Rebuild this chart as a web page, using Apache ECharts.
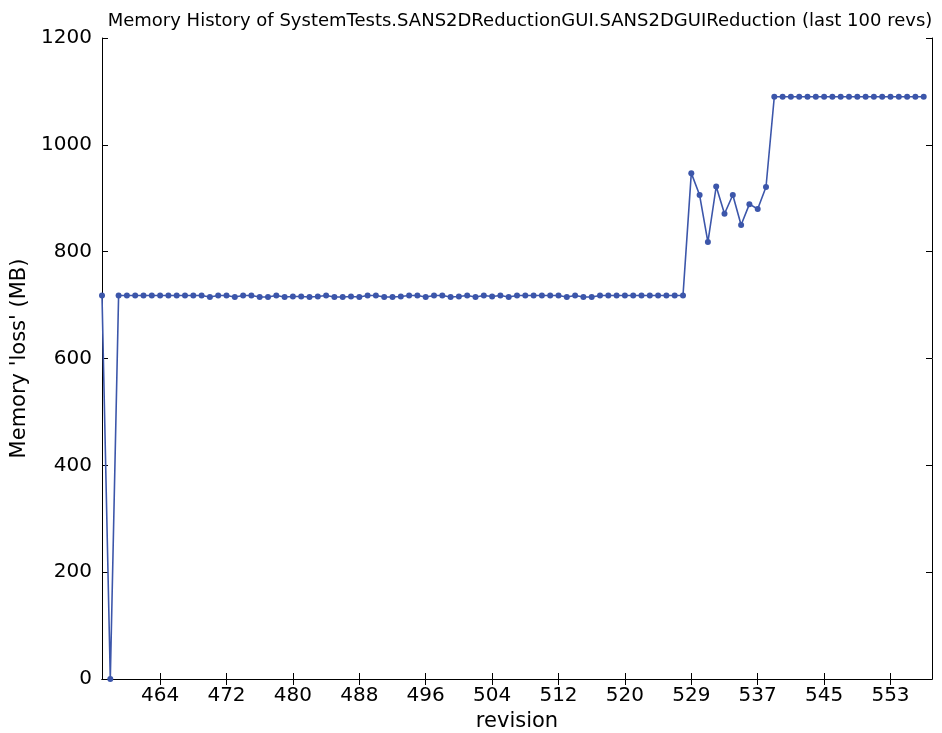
<!DOCTYPE html>
<html>
<head>
<meta charset="utf-8">
<script src="https://cdn.jsdelivr.net/npm/echarts@6/dist/echarts.min.js"></script>
<style>
  html, body { margin: 0; padding: 0; background: #fff; }
  #chart { width: 942px; height: 733px; }
</style>
</head>
<body>
<div id="chart"></div>
<script>
// revisions (one per point, 521 missing from the history)
var revisions = [
  457, 458, 459, 460, 461, 462, 463, 464, 465, 466,
  467, 468, 469, 470, 471, 472, 473, 474, 475, 476,
  477, 478, 479, 480, 481, 482, 483, 484, 485, 486,
  487, 488, 489, 490, 491, 492, 493, 494, 495, 496,
  497, 498, 499, 500, 501, 502, 503, 504, 505, 506,
  507, 508, 509, 510, 511, 512, 513, 514, 515, 516,
  517, 518, 519, 520, 522, 523, 524, 525, 526, 527,
  528, 529, 530, 531, 532, 533, 534, 535, 536, 537,
  538, 539, 540, 541, 542, 543, 544, 545, 546, 547,
  548, 549, 550, 551, 552, 553, 554, 555, 556, 557
];

// memory loss in MB
var memory = [
  718, 0, 718, 718, 718, 718, 718, 718, 718, 718,
  718, 718, 718, 715, 718, 718, 715, 718, 718, 715,
  715, 718, 715, 716, 716, 715, 716, 718, 715, 715,
  716, 715, 718, 718, 715, 715, 716, 718, 718, 715,
  718, 718, 715, 716, 718, 715, 718, 716, 718, 715,
  718, 718, 718, 718, 718, 718, 715, 718, 715, 715,
  718, 718, 718, 718, 718, 718, 718, 718, 718, 718,
  718, 947, 906, 818, 922, 871, 906, 850, 889, 880,
  921, 1090, 1090, 1090, 1090, 1090, 1090, 1090, 1090, 1090,
  1090, 1090, 1090, 1090, 1090, 1090, 1090, 1090, 1090, 1090
];

var yTicks = [0, 200, 400, 600, 800, 1000, 1200];

// axis runs one slot past the last point
var categories = revisions.concat(['']);

var lineColor = '#3c56aa';
var font = 'DejaVu Sans';

function showTick(index) {
  return index % 8 === 7 && index < revisions.length;
}

var myChart = echarts.init(document.getElementById('chart'));
var option = {
  animation: false,
  backgroundColor: '#fff',
  title: {
    text: 'Memory History of SystemTests.SANS2DReductionGUI.SANS2DGUIReduction (last 100 revs)',
    left: 515,
    textAlign: 'center',
    top: 7,
    textStyle: { fontFamily: font, fontSize: 18, fontWeight: 'normal', color: '#000' }
  },
  grid: { left: 102, right: 10, top: 38, bottom: 54, outerBoundsMode: 'none' },
  xAxis: [{
    type: 'category',
    data: categories,
    boundaryGap: false,
    name: 'revision',
    nameLocation: 'middle',
    nameGap: 28,
    nameTextStyle: { fontFamily: font, fontSize: 21, color: '#000' },
    axisLine: { lineStyle: { color: '#000', width: 1 } },
    axisTick: { inside: true, length: 6, interval: showTick, lineStyle: { color: '#000' } },
    axisLabel: { interval: showTick, margin: 7, fontFamily: font, fontSize: 20, color: '#000' },
    splitLine: { show: false }
  }, {
    type: 'category',
    data: categories,
    boundaryGap: false,
    position: 'top',
    axisLine: { lineStyle: { color: '#000', width: 1 } },
    axisTick: { inside: true, length: 6, interval: showTick, lineStyle: { color: '#000' } },
    axisLabel: { show: false },
    splitLine: { show: false }
  }],
  yAxis: [{
    type: 'value',
    min: yTicks[0],
    max: yTicks[yTicks.length - 1],
    interval: 200,
    name: "Memory 'loss' (MB)",
    nameLocation: 'middle',
    nameGap: 70,
    nameTextStyle: { fontFamily: font, fontSize: 21, color: '#000' },
    axisLine: { show: true, lineStyle: { color: '#000', width: 1 } },
    axisTick: { show: true, inside: true, length: 6, lineStyle: { color: '#000' } },
    axisLabel: {
      margin: 10, fontFamily: font, fontSize: 20, color: '#000',
      formatter: function (v) { return String(v); }
    },
    splitLine: { show: false }
  }, {
    type: 'value',
    min: yTicks[0],
    max: yTicks[yTicks.length - 1],
    interval: 200,
    position: 'right',
    axisLine: { show: true, lineStyle: { color: '#000', width: 1 } },
    axisTick: { show: true, inside: true, length: 6, lineStyle: { color: '#000' } },
    axisLabel: { show: false },
    splitLine: { show: false }
  }],
  series: [{
    name: 'memory',
    type: 'line',
    data: memory,
    symbol: 'circle',
    symbolSize: 6,
    showAllSymbol: true,
    lineStyle: { color: lineColor, width: 1.6 },
    itemStyle: { color: lineColor }
  }]
};
myChart.setOption(option);
</script>
</body>
</html>
